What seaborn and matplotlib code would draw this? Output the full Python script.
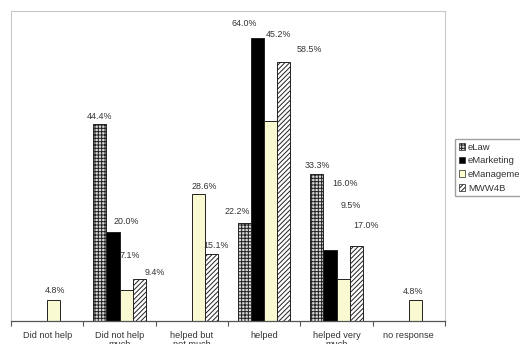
import numpy as np
import pandas as pd
import seaborn as sns
import matplotlib.pyplot as plt
import matplotlib.patches as mpatches

# categories and series values (percent)
responses = ['Did not help', 'Did not help\nmuch', 'helped but\nnot much',
             'helped', 'helped very\nmuch', 'no response']
series = ['eLaw', 'eMarketing', 'eManagement', 'MWW4B']
elaw = [0, 44.4, 0, 22.2, 33.3, 0]
emarketing = [0, 20.0, 0, 64.0, 16.0, 0]
emanagement = [4.8, 7.1, 28.6, 45.2, 9.5, 4.8]
mww4b = [0, 9.4, 15.1, 58.5, 17.0, 0]

rows = []
for name, vals in zip(series, [elaw, emarketing, emanagement, mww4b]):
    for i, v in enumerate(vals):
        rows.append({'response': i, 'group': name, 'pct': v})
df = pd.DataFrame(rows)

# bar styles
faces = {'eLaw': '#d8d8d8', 'eMarketing': 'black', 'eManagement': '#ffffcc', 'MWW4B': 'white'}
hatches = {'eLaw': '+++++', 'eMarketing': '', 'eManagement': '', 'MWW4B': '///////'}

# label nudges in pixels (dx, dy) where Excel shifted them
nudge = {
    ('eMarketing', 1): (13, 3), ('eManagement', 1): (4, 26), ('MWW4B', 1): (16, -1),
    ('eManagement', 2): (6, 0), ('MWW4B', 2): (5, 1),
    ('eLaw', 3): (-7, 3), ('eMarketing', 3): (-13, 6), ('eManagement', 3): (8, 78), ('MWW4B', 3): (26, 4),
    ('eMarketing', 4): (15, 59), ('eManagement', 4): (8, 65), ('MWW4B', 4): (10, 12),
    ('eManagement', 0): (1, 1), ('eManagement', 5): (-2, 0),
}

sns.set_style('white')
plt.rcParams['font.family'] = ['Liberation Sans', 'DejaVu Sans']
plt.rcParams['hatch.linewidth'] = 0.7

fig = plt.figure(figsize=(5.2, 3.44), dpi=100)
ax = fig.add_axes([11 / 520, 23 / 344, 434 / 520, 310 / 344])

sns.barplot(data=df, x='response', y='pct', hue='group', hue_order=series,
            palette=faces, width=0.72, gap=0, edgecolor='black', linewidth=0.7,
            legend=False, ax=ax)

for name, cont in zip(series, ax.containers):
    for i, bar in enumerate(cont.patches):
        bar.set_hatch(hatches[name])
        bar.set_edgecolor('#222222')
        h = bar.get_height()
        if h <= 0:
            bar.set_visible(False)
            continue
        dx, dy = nudge.get((name, i), (0, 0))
        ax.annotate(f'{h:.1f}%', (bar.get_x() + bar.get_width() / 2, h),
                    xytext=(dx, 8 + dy), textcoords='offset pixels',
                    ha='center', va='center', fontsize=6.4, color='#333333')

ax.set_xlim(-0.5, 5.5)
ax.set_ylim(0, 70)
ax.set_yticks([])
ax.set_xticks(range(len(responses)))
ax.set_xticklabels(responses, fontsize=6.6, color='#333333', linespacing=1.1)
ax.set_xticks(np.arange(-0.5, 6, 1), minor=True)
ax.tick_params(axis='x', which='major', length=0, pad=7)
ax.tick_params(axis='x', which='minor', length=3.5, width=0.8, color='#555555', direction='out', bottom=True)
ax.set_xlabel('')
ax.set_ylabel('')
for side in ['top', 'left', 'right']:
    ax.spines[side].set_color('#c8c8c8')
    ax.spines[side].set_linewidth(0.8)
ax.spines['bottom'].set_color('#555555')
ax.spines['bottom'].set_linewidth(0.9)

handles = [mpatches.Patch(facecolor=faces[s], hatch=hatches[s], edgecolor='#222222',
                          linewidth=0.5, label=s) for s in series]
fig.legend(handles=handles, loc='upper left', bbox_to_anchor=(450 / 520, 1 - 134 / 344),
           fontsize=6.8, frameon=True, fancybox=False, edgecolor='#888888',
           handlelength=0.7, handleheight=0.7, handletextpad=0.3, labelspacing=0.5,
           borderpad=0.4, labelcolor='#333333')

fig.savefig('out.png', dpi=100, facecolor='white')
